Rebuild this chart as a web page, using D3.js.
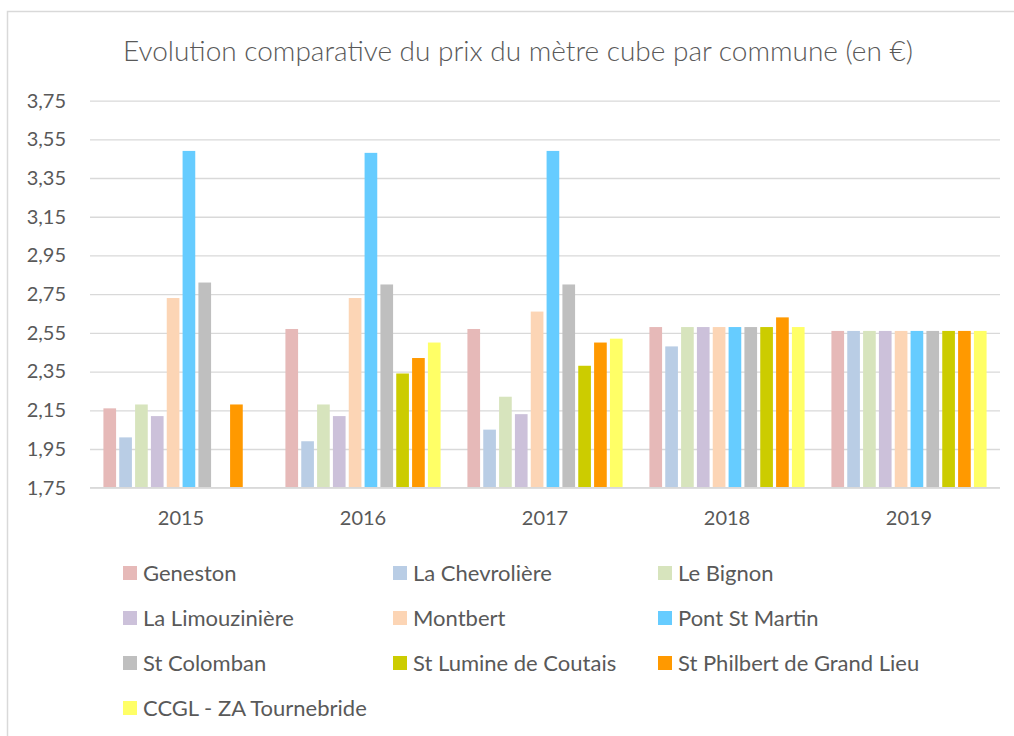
<!DOCTYPE html>
<html>
<head>
<meta charset="utf-8">
<script src="https://cdn.jsdelivr.net/npm/d3@7"></script>
<style>
  body { margin: 0; background: #fff; }
  svg { font-family: Lato, "Liberation Sans", sans-serif; }
</style>
</head>
<body>
<div class="graph"></div>
<script>
var years = ['2015', '2016', '2017', '2018', '2019'];

var communes = [
  'Geneston', 'La Chevrolière', 'Le Bignon', 'La Limouzinière', 'Montbert',
  'Pont St Martin', 'St Colomban', 'St Lumine de Coutais',
  'St Philbert de Grand Lieu', 'CCGL - ZA Tournebride'
];

// one array per commune, one value per year (null = no bar)
var geneston = [2.16, 2.57, 2.57, 2.58, 2.56];
var chevroliere = [2.01, 1.99, 2.05, 2.48, 2.56];
var bignon = [2.18, 2.18, 2.22, 2.58, 2.56];
var limouziniere = [2.12, 2.12, 2.13, 2.58, 2.56];
var montbert = [2.73, 2.73, 2.66, 2.58, 2.56];
var pontStMartin = [3.49, 3.48, 3.49, 2.58, 2.56];
var stColomban = [2.81, 2.80, 2.80, 2.58, 2.56];
var stLumine = [null, 2.34, 2.38, 2.58, 2.56];
var stPhilbert = [2.18, 2.42, 2.50, 2.63, 2.56];
var ccgl = [null, 2.50, 2.52, 2.58, 2.56];

var yTicks = [1.75, 1.95, 2.15, 2.35, 2.55, 2.75, 2.95, 3.15, 3.35, 3.55, 3.75];

var colors = ['#E6B9B8', '#B9CDE5', '#D7E4BD', '#CCC1DA', '#FCD5B5',
  '#66CCFF', '#BFBFBF', '#CCCC00', '#FF9900', '#FFFF66'];

var values = [geneston, chevroliere, bignon, limouziniere, montbert,
  pontStMartin, stColomban, stLumine, stPhilbert, ccgl];

var width = 1014, height = 736;
var textColor = '#595959', gridColor = '#D9D9D9';

var svg = d3.select('.graph')
  .append('svg')
  .attr('width', width)
  .attr('height', height);

// chart border (runs off the picture on the right and bottom)
svg.append('rect')
  .attr('x', 7.5).attr('y', 11.5)
  .attr('width', 1040).attr('height', 760)
  .attr('fill', 'none')
  .attr('stroke', gridColor)
  .attr('stroke-width', 1.5);

svg.append('text')
  .attr('x', 518).attr('y', 61)
  .attr('text-anchor', 'middle')
  .attr('fill', textColor)
  .style('font-size', '28px')
  .style('font-weight', 300)
  .text('Evolution comparative du prix du mètre cube par commune (en €)');

var x0 = d3.scaleBand()
  .domain(years)
  .range([90, 1000])
  .paddingInner(0.13)
  .paddingOuter(0.065);

var x1 = d3.scaleBand()
  .domain(communes)
  .range([0, x0.bandwidth()])
  .paddingInner(0.2)
  .paddingOuter(0.1);

var y = d3.scaleLinear()
  .domain([1.75, 3.75])
  .range([487.7, 100.6]);

var color = d3.scaleOrdinal()
  .domain(communes)
  .range(colors);

var fmt = function (d) { return d3.format('.2f')(d).replace('.', ','); };

// gridlines + y labels
var yAxis = d3.axisLeft(y)
  .tickValues(yTicks)
  .tickSize(-910)
  .tickPadding(24)
  .tickFormat(fmt);

var gy = svg.append('g')
  .attr('transform', 'translate(90,0)')
  .call(yAxis);
gy.select('.domain').remove();
gy.selectAll('.tick line')
  .attr('stroke', gridColor)
  .attr('stroke-width', 1.3);
gy.selectAll('.tick text')
  .attr('fill', textColor)
  .style('font-size', '20px')
  .style('font-family', 'Lato, sans-serif');

// bars
var groups = svg.append('g')
  .selectAll('g.year')
  .data(years)
  .enter()
  .append('g')
  .attr('class', 'year')
  .attr('transform', function (d) { return 'translate(' + x0(d) + ',0)'; });

groups.selectAll('rect')
  .data(function (d, i) {
    return communes.map(function (c, j) { return { name: c, value: values[j][i] }; })
      .filter(function (e) { return e.value != null; });
  })
  .enter()
  .append('rect')
  .attr('x', function (d) { return x1(d.name); })
  .attr('y', function (d) { return y(d.value); })
  .attr('width', x1.bandwidth())
  .attr('height', function (d) { return y(1.75) - y(d.value); })
  .attr('fill', function (d) { return color(d.name); });

// x axis
var xAxis = d3.axisBottom(x0).tickSize(0).tickPadding(23);
var gx = svg.append('g')
  .attr('transform', 'translate(0,' + y(1.75) + ')')
  .call(xAxis);
gx.select('.domain')
  .attr('stroke', gridColor)
  .attr('stroke-width', 1.6)
  .attr('d', 'M90,0H1000');
gx.selectAll('.tick text')
  .attr('fill', textColor)
  .style('font-size', '20px')
  .style('font-family', 'Lato, sans-serif');

// legend, three columns
var legendX = [123, 393, 658];
var legend = svg.append('g')
  .attr('class', 'legend')
  .selectAll('g')
  .data(communes)
  .enter()
  .append('g')
  .attr('transform', function (d, i) {
    return 'translate(' + legendX[i % 3] + ',' + (566 + 45 * Math.floor(i / 3)) + ')';
  });
legend.append('rect')
  .attr('width', 14).attr('height', 14)
  .attr('fill', function (d) { return color(d); });
legend.append('text')
  .attr('x', 20).attr('y', 14.5)
  .attr('fill', textColor)
  .style('font-size', '22px')
  .text(function (d) { return d; });
</script>
</body>
</html>
